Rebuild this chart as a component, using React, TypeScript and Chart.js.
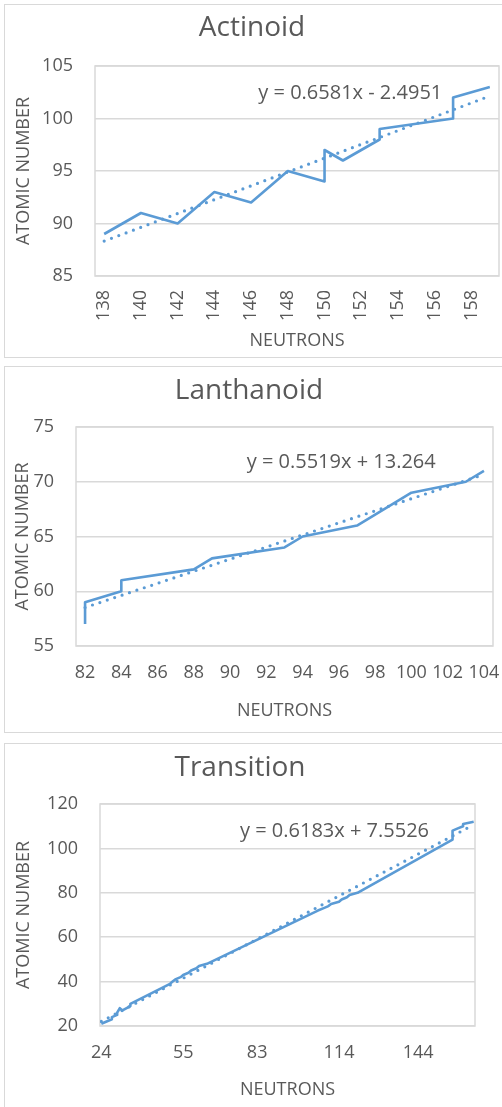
import React, { useEffect, useRef } from "react";
import { Chart, registerables } from "chart.js";

Chart.register(...registerables);

// ---------- Actinoid ----------
const actinoidNeutrons = [138, 140, 142, 144, 146, 148, 150, 150, 151, 153, 153, 157, 157, 157, 159];
const actinoidAtomic = [89, 91, 90, 93, 92, 95, 94, 97, 96, 98, 99, 100, 101, 102, 103];
const actinoidXTicks = [138, 140, 142, 144, 146, 148, 150, 152, 154, 156, 158];
const actinoidYTicks = [85, 90, 95, 100, 105];
const actinoidEquation = "y = 0.6581x - 2.4951";

// ---------- Lanthanoid ----------
const lanthanoidNeutrons = [82, 82, 82, 84, 84, 88, 89, 93, 94, 97, 98, 99, 100, 103, 104];
const lanthanoidAtomic = [57, 58, 59, 60, 61, 62, 63, 64, 65, 66, 67, 68, 69, 70, 71];
const lanthanoidXTicks = [82, 84, 86, 88, 90, 92, 94, 96, 98, 100, 102, 104];
const lanthanoidYTicks = [55, 60, 65, 70, 75];
const lanthanoidEquation = "y = 0.5519x + 13.264";

// ---------- Transition ----------
const transitionNeutrons = [
  24, 26, 28, 28, 30, 30, 31, 32, 35, 35,
  50, 51, 52, 54, 55, 57, 58, 60, 61, 64,
  106, 108, 110, 111, 114, 115, 117, 118, 121,
  157, 157, 157, 157, 157, 159, 161, 161, 165,
];
const transitionAtomic = [
  21, 22, 23, 24, 25, 26, 28, 27, 29, 30,
  39, 40, 41, 42, 43, 44, 45, 46, 47, 48,
  72, 73, 74, 75, 76, 77, 78, 79, 80,
  104, 105, 106, 107, 108, 109, 110, 111, 112,
];
const transitionXTicks = [24, 55, 83, 114, 144];
const transitionYTicks = [20, 40, 60, 80, 100, 120];
const transitionEquation = "y = 0.6183x + 7.5526";

const xAxisTitle = "NEUTRONS";
const yAxisTitle = "ATOMIC NUMBER";

const FONT = "'Open Sans', sans-serif";
const TEXT = "#595959";
const GRID = "#d9d9d9";
const LINE = "#5B9BD5";

function leastSquares(xs: number[], ys: number[]) {
  const n = xs.length;
  let sx = 0, sy = 0, sxx = 0, sxy = 0;
  for (let i = 0; i < n; i++) {
    sx += xs[i]; sy += ys[i]; sxx += xs[i] * xs[i]; sxy += xs[i] * ys[i];
  }
  const slope = (n * sxy - sx * sy) / (n * sxx - sx * sx);
  const intercept = (sy - slope * sx) / n;
  return { slope, intercept };
}

const decorPlugin = {
  id: "panelDecor",
  beforeDatasetsDraw(chart: any) {
    const { ctx, chartArea: a } = chart;
    ctx.save();
    ctx.strokeStyle = GRID;
    ctx.lineWidth = 1.5;
    ctx.strokeRect(a.left, a.top, a.right - a.left, a.bottom - a.top);
    ctx.restore();
  },
  afterDatasetsDraw(chart: any, _args: any, opts: any) {
    const { ctx, chartArea: a } = chart;
    ctx.save();
    ctx.fillStyle = TEXT;
    ctx.font = `${opts.size}px ${FONT}`;
    ctx.textAlign = "left";
    ctx.textBaseline = "middle";
    ctx.fillText(opts.equation, a.left + opts.dx, a.top + opts.dy);
    ctx.restore();
  },
};

interface PanelSpec {
  title: string;
  neutrons: number[];
  atomic: number[];
  xTicks: number[];
  yTicks: number[];
  equation: string;
  top: number;
  canvasH: number;
  yAxisWidth: number;
  xAxisHeight: number;
  rightPad: number;
  titleTop: number;
  titleBottom: number;
  yTitlePad: number;
  xTitlePad: number;
  xRotation: number;
  xTickPad: number;
  eqDx: number;
  eqDy: number;
}

const CANVAS_W = 518;

function Panel({ spec }: { spec: PanelSpec }) {
  const ref = useRef<HTMLCanvasElement>(null);
  useEffect(() => {
    if (!ref.current) return;
    const { slope, intercept } = leastSquares(spec.neutrons, spec.atomic);
    const xMin = Math.min(...spec.neutrons);
    const xMax = Math.max(...spec.neutrons);
    const chart = new Chart(ref.current, {
      type: "line",
      data: {
        datasets: [
          {
            data: spec.neutrons.map((x, i) => ({ x, y: spec.atomic[i] })),
            borderColor: LINE,
            borderWidth: 2.6,
            pointRadius: 0,
            tension: 0,
            fill: false,
            borderJoinStyle: "round",
          },
          {
            data: [
              { x: xMin, y: slope * xMin + intercept },
              { x: xMax, y: slope * xMax + intercept },
            ],
            borderColor: LINE,
            borderWidth: 3.2,
            borderDash: [0, 7.8],
            borderCapStyle: "round",
            pointRadius: 0,
            fill: false,
          },
        ],
      },
      options: {
        responsive: false,
        animation: false,
        devicePixelRatio: 1,
        layout: { padding: { left: 0, right: spec.rightPad, top: 0, bottom: 0 } },
        plugins: {
          legend: { display: false },
          tooltip: { enabled: false },
          title: {
            display: true,
            text: spec.title,
            color: TEXT,
            font: { family: FONT, size: 28, weight: "normal", lineHeight: 1.2 },
            padding: { top: spec.titleTop, bottom: spec.titleBottom },
          },
          panelDecor: { equation: spec.equation, dx: spec.eqDx, dy: spec.eqDy, size: 20 },
        } as any,
        scales: {
          x: {
            type: "linear",
            min: xMin - 0.5,
            max: xMax + 0.5,
            grid: { display: false, drawTicks: false },
            border: { display: false },
            afterBuildTicks: (scale: any) => {
              scale.ticks = spec.xTicks.map((v) => ({ value: v }));
            },
            afterFit: (scale: any) => {
              scale.height = spec.xAxisHeight;
            },
            ticks: {
              autoSkip: false,
              maxRotation: spec.xRotation,
              minRotation: spec.xRotation,
              padding: spec.xTickPad,
              color: TEXT,
              font: { family: FONT, size: 18, lineHeight: 1.2 },
              callback: (v: any) => String(v),
            },
            title: {
              display: true,
              text: xAxisTitle,
              color: TEXT,
              font: { family: FONT, size: 18, lineHeight: 1.2 },
              padding: { top: 0, bottom: spec.xTitlePad },
            },
          },
          y: {
            type: "linear",
            min: spec.yTicks[0],
            max: spec.yTicks[spec.yTicks.length - 1],
            grid: { color: GRID, lineWidth: 1.5, drawTicks: false },
            border: { display: false },
            afterBuildTicks: (scale: any) => {
              scale.ticks = spec.yTicks.map((v) => ({ value: v }));
            },
            afterFit: (scale: any) => {
              scale.width = spec.yAxisWidth;
            },
            ticks: {
              padding: 22,
              color: TEXT,
              font: { family: FONT, size: 18, lineHeight: 1.2 },
              callback: (v: any) => String(v),
            },
            title: {
              display: true,
              text: yAxisTitle,
              color: TEXT,
              font: { family: FONT, size: 18, lineHeight: 1.2 },
              padding: { top: spec.yTitlePad, bottom: 0 },
            },
          },
        },
      },
      plugins: [decorPlugin],
    } as any);
    return () => chart.destroy();
  }, [spec]);

  return (
    <div
      style={{
        position: "absolute",
        left: 4,
        top: spec.top,
        width: CANVAS_W + 2,
        height: spec.canvasH + 2,
        border: `1px solid ${GRID}`,
        boxSizing: "border-box",
        background: "#fff",
      }}
    >
      <canvas ref={ref} width={CANVAS_W} height={spec.canvasH} style={{ display: "block" }} />
    </div>
  );
}

const panels: PanelSpec[] = [
  {
    title: "Actinoid",
    neutrons: actinoidNeutrons,
    atomic: actinoidAtomic,
    xTicks: actinoidXTicks,
    yTicks: actinoidYTicks,
    equation: actinoidEquation,
    top: 4,
    canvasH: 352,
    yAxisWidth: 90,
    xAxisHeight: 81,
    rightPad: 24,
    titleTop: 6.3,
    titleBottom: 21.1,
    yTitlePad: 8.2,
    xTitlePad: 5.2,
    xRotation: 90,
    xTickPad: 14,
    eqDx: 163.3,
    eqDy: 27.7,
  },
  {
    title: "Lanthanoid",
    neutrons: lanthanoidNeutrons,
    atomic: lanthanoidAtomic,
    xTicks: lanthanoidXTicks,
    yTicks: lanthanoidYTicks,
    equation: lanthanoidEquation,
    top: 366,
    canvasH: 365,
    yAxisWidth: 71,
    xAxisHeight: 86,
    rightPad: 30,
    titleTop: 7.0,
    titleBottom: 19.4,
    yTitlePad: 7.2,
    xTitlePad: 10.5,
    xRotation: 0,
    xTickPad: 15.6,
    eqDx: 170.7,
    eqDy: 35.3,
  },
  {
    title: "Transition",
    neutrons: transitionNeutrons,
    atomic: transitionAtomic,
    xTicks: transitionXTicks,
    yTicks: transitionYTicks,
    equation: transitionEquation,
    top: 743,
    canvasH: 368,
    yAxisWidth: 95,
    xAxisHeight: 86,
    rightPad: 48,
    titleTop: 7.6,
    titleBottom: 18.8,
    yTitlePad: 8.2,
    xTitlePad: 11.5,
    xRotation: 0,
    xTickPad: 15.6,
    eqDx: 140,
    eqDy: 27.3,
  },
];

export default function App() {
  return (
    <>
      <style>{`html,body{margin:0;padding:0;overflow:hidden;background:#fff;}`}</style>
      <div style={{ position: "relative", width: 502, height: 1107, overflow: "hidden", background: "#fff" }}>
        {panels.map((p) => (
          <Panel key={p.title} spec={p} />
        ))}
      </div>
    </>
  );
}
